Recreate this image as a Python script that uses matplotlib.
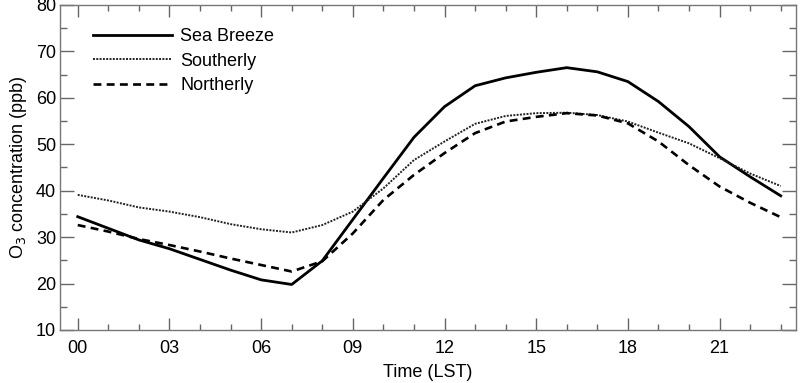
import matplotlib
matplotlib.use("Agg")
import matplotlib.pyplot as plt
from matplotlib.ticker import MultipleLocator

plt.rcParams['font.family'] = ['Liberation Sans', 'DejaVu Sans']

hours = list(range(24))
sea_breeze = [34.4, 31.9, 29.4, 27.5, 25.2, 22.9, 20.8, 19.8, 24.9, 33.8, 42.7, 51.5,
              58.1, 62.6, 64.3, 65.5, 66.5, 65.6, 63.5, 59.2, 53.8, 47.3, 43.0, 38.9]
southerly = [39.1, 37.9, 36.4, 35.5, 34.3, 32.8, 31.7, 31.0, 32.6, 35.5, 40.5, 46.6,
             50.6, 54.4, 56.1, 56.7, 56.8, 56.3, 54.9, 52.5, 50.2, 47.0, 43.7, 41.0]
northerly = [32.6, 31.2, 29.6, 28.3, 26.9, 25.4, 24.0, 22.6, 24.8, 30.8, 38.0, 43.4,
             48.1, 52.4, 54.9, 55.9, 56.7, 56.2, 54.5, 50.6, 45.5, 40.9, 37.4, 34.3]
xtick_labels = ["00", "03", "06", "09", "12", "15", "18", "21"]

fig = plt.figure(figsize=(8, 3.83), dpi=100)
ax = fig.add_axes([0.0754, 0.1384, 0.9196, 0.8486])

ax.plot(hours, sea_breeze, color='black', lw=2.0, ls='-', label='Sea Breeze')
ax.plot(hours, southerly, color='#222222', lw=1.4, ls=(0, (1, 0.7)), label='Southerly')
ax.plot(hours, northerly, color='black', lw=1.9, ls=(0, (3, 2)), label='Northerly')

ax.set_xlim(-0.57, 23.5)
ax.set_ylim(10, 80)
ax.set_xticks(range(0, 24, 3))
ax.set_xticklabels(xtick_labels)
ax.xaxis.set_minor_locator(MultipleLocator(1))
ax.yaxis.set_major_locator(MultipleLocator(10))
ax.yaxis.set_minor_locator(MultipleLocator(5))

ax.tick_params(axis='both', which='both', direction='in', top=True, right=True,
               colors='#666666', labelcolor='black', labelsize=13)
ax.tick_params(axis='x', which='major', length=8.5, width=1, pad=7)
ax.tick_params(axis='x', which='minor', length=4.5, width=1)
ax.tick_params(axis='y', which='major', length=10, width=1, pad=3)
ax.tick_params(axis='y', which='minor', length=5, width=1)
for s in ax.spines.values():
    s.set_color('#777777')
    s.set_linewidth(1)

ax.set_xlabel('Time (LST)', fontsize=13, labelpad=5)
ax.set_ylabel('O$_3$ concentration (ppb)', fontsize=13, labelpad=5)

leg = ax.legend(loc='upper left', bbox_to_anchor=(0.022, 0.978), frameon=False,
                fontsize=13, handlelength=4.4, handletextpad=0.45, labelspacing=0.4)

fig.savefig('out.png', dpi=100)
